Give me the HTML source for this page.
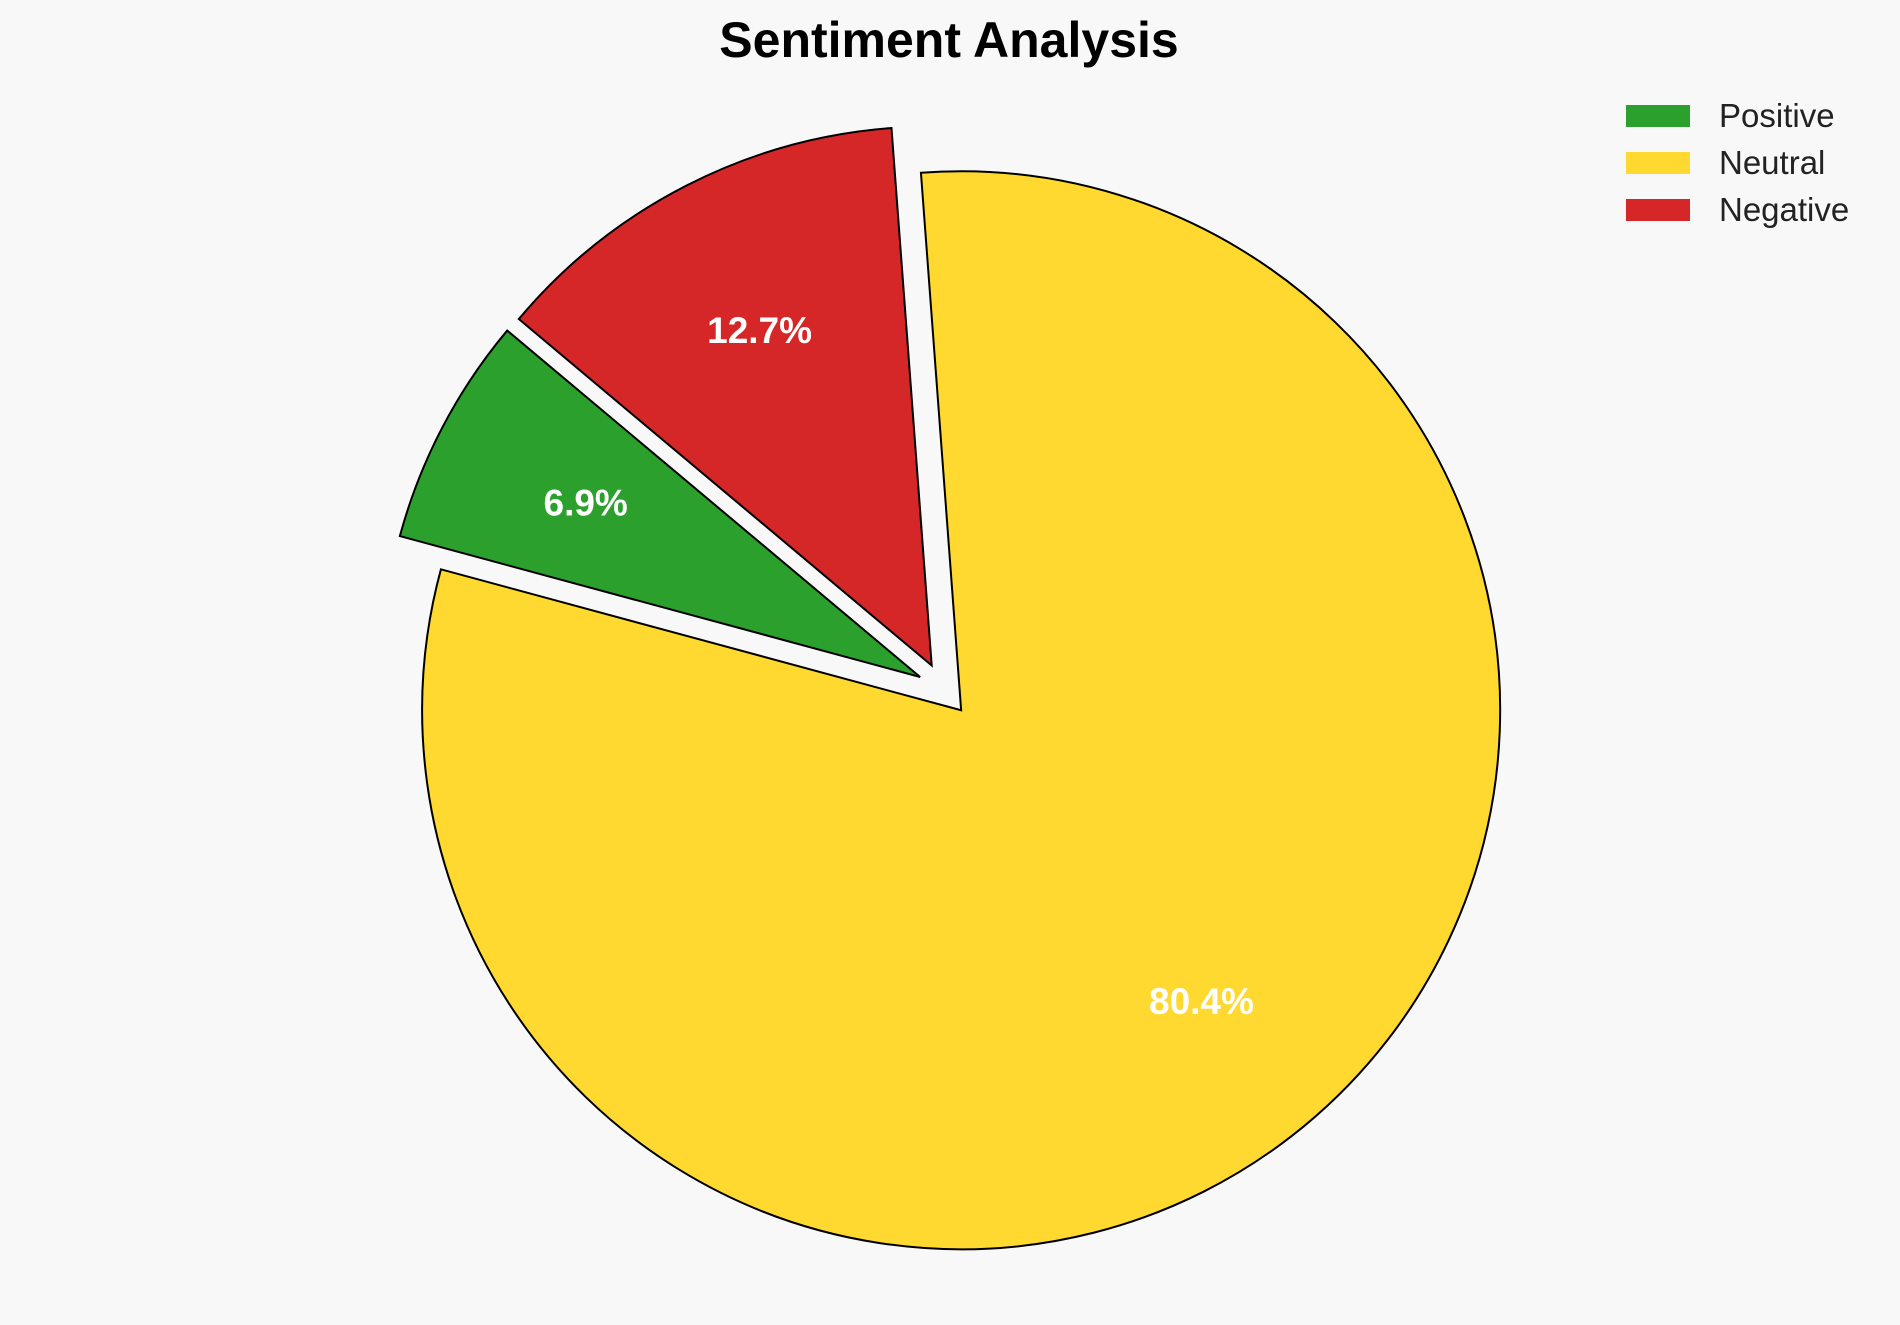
<!DOCTYPE html>
<html>
<head>
<meta charset="utf-8">
<style>
  html, body { margin: 0; padding: 0; background: #f8f8f8; }
  svg { display: block; }
  text { font-family: "Liberation Sans", Arial, sans-serif; }
</style>
</head>
<body>
<svg id="chart" width="1900" height="1325" viewBox="0 0 1900 1325" xmlns="http://www.w3.org/2000/svg">
  <rect width="1900" height="1325" fill="#f8f8f8"/>
  <text x="949" y="57" text-anchor="middle" font-size="50" font-weight="bold" fill="#000">Sentiment Analysis</text>
  <g id="slices"></g>
  <g id="labels"></g>
  <g id="legend"></g>
</svg>
<script>
const categories = ["Positive", "Neutral", "Negative"];
const values = [6.9, 80.4, 12.7];
const explode = [0.05, 0.05, 0.05];
const colors = ["#2ca02c", "#ffd92f", "#d62728"];

const cx = 944, cy = 689.5, R = 539, startAngle = 140, pctDist = 0.7;
const NS = "http://www.w3.org/2000/svg";
const total = values.reduce((a, b) => a + b, 0);
const slicesG = document.getElementById("slices");
const labelsG = document.getElementById("labels");
const legendG = document.getElementById("legend");

function pt(x, y, r, deg) {
  const a = deg * Math.PI / 180;
  return [x + r * Math.cos(a), y - r * Math.sin(a)];
}

let ang = startAngle;
values.forEach((v, i) => {
  const sweep = v / total * 360;
  const mid = ang + sweep / 2;
  const [ox, oy] = pt(cx, cy, explode[i] * R, mid);
  const [x1, y1] = pt(ox, oy, R, ang);
  const [x2, y2] = pt(ox, oy, R, ang + sweep);
  const large = sweep > 180 ? 1 : 0;
  const path = document.createElementNS(NS, "path");
  path.setAttribute("d", `M${ox},${oy} L${x1},${y1} A${R},${R} 0 ${large} 0 ${x2},${y2} Z`);
  path.setAttribute("fill", colors[i]);
  path.setAttribute("stroke", "#000");
  path.setAttribute("stroke-width", "2");
  path.setAttribute("stroke-linejoin", "miter");
  
  
  slicesG.appendChild(path);

  const [lx, ly] = pt(ox, oy, R * pctDist, mid);
  const t = document.createElementNS(NS, "text");
  t.setAttribute("x", lx);
  t.setAttribute("y", ly + 13);
  t.setAttribute("text-anchor", "middle");
  t.setAttribute("font-size", "37");
  t.setAttribute("font-weight", "bold");
  t.setAttribute("fill", "#fff");
  t.textContent = (v / total * 100).toFixed(1) + "%";
  
  
  labelsG.appendChild(t);
  ang += sweep;
});

categories.forEach((c, i) => {
  const y = 105 + i * 47;
  const r = document.createElementNS(NS, "rect");
  r.setAttribute("x", 1626);
  r.setAttribute("y", y);
  r.setAttribute("width", 64);
  r.setAttribute("height", 22);
  r.setAttribute("fill", colors[i]);
  
  
  legendG.appendChild(r);
  const t = document.createElementNS(NS, "text");
  t.setAttribute("x", 1719);
  t.setAttribute("y", y + 22);
  t.setAttribute("font-size", "33");
  t.setAttribute("fill", "#222");
  t.textContent = c;
  
  
  legendG.appendChild(t);
});
</script>
</body>
</html>
